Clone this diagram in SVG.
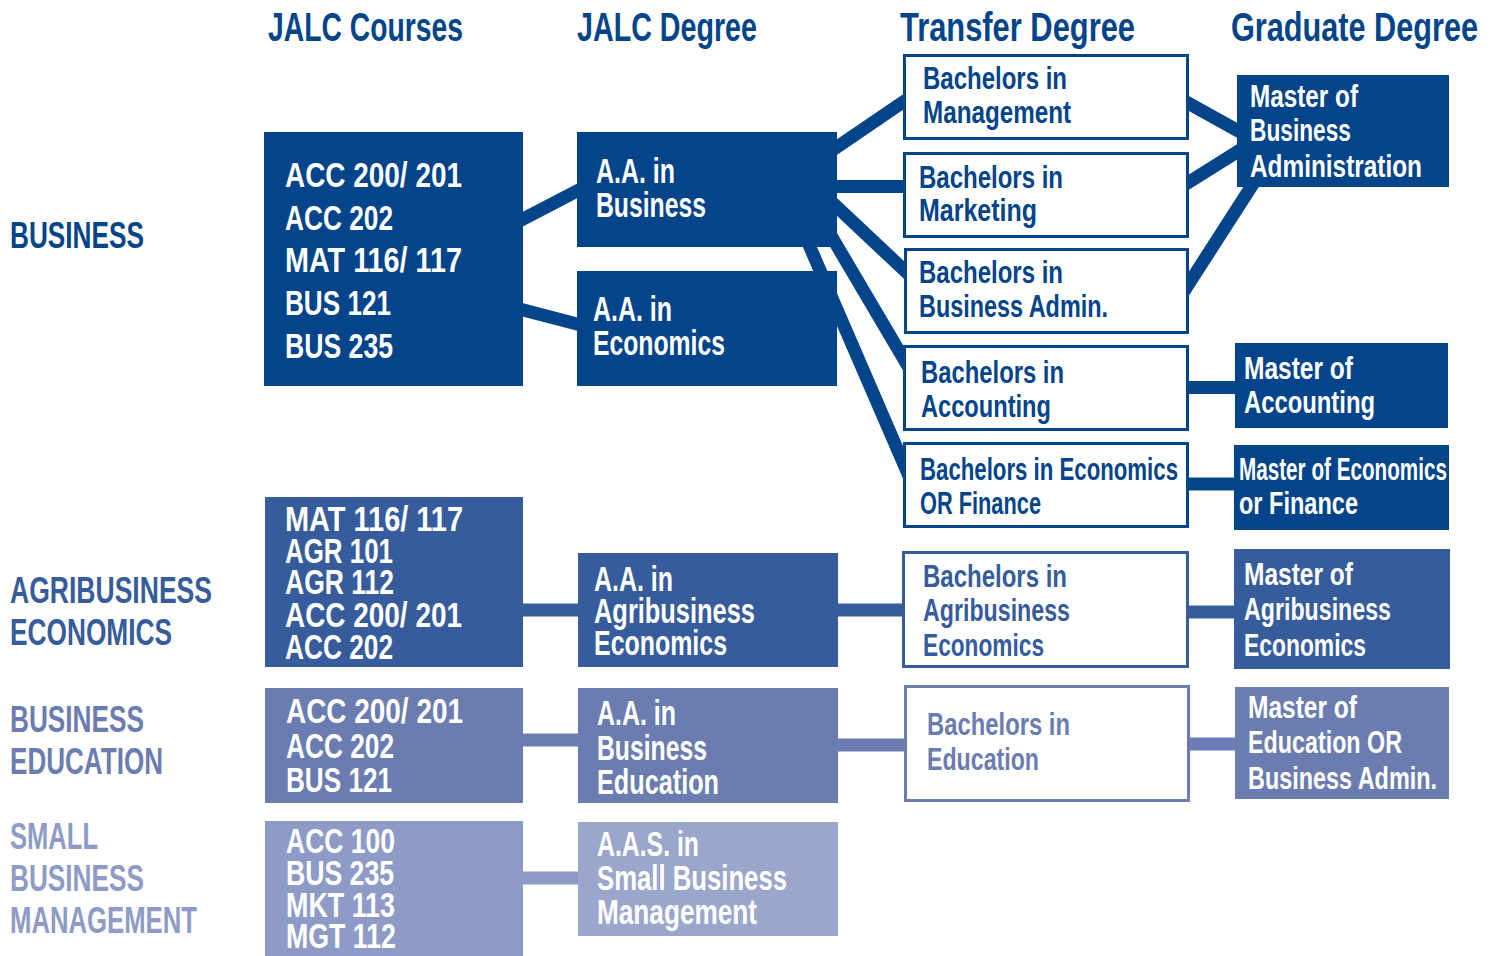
<svg xmlns="http://www.w3.org/2000/svg" width="1496" height="956" viewBox="0 0 1496 956">
<style>
text { font-family: "Liberation Sans Narrow", "Liberation Sans", Arial, sans-serif; font-weight: bold; }
.h { font-size: 40px; fill: #03448A; }
.lab { font-size: 37px; }
.c { font-size: 35px; fill: #ffffff; }
.t { font-size: 31px; }
.tw { font-size: 31px; fill: #ffffff; }
.fd { fill: #03448A; }
.fa { fill: #375C9B; }
.fe { fill: #6B7DB0; }
.fs { fill: #8E9BC6; }
.fx { fill: #9BA6CD; }
.ln { fill: none; stroke-width: 13; stroke-linecap: butt; }
.sd { stroke: #03448A; }
.sa { stroke: #375C9B; }
.se { stroke: #6B7DB0; }
.ss { stroke: #8E9BC6; }
.ob { fill: #ffffff; stroke-width: 3; }
</style>

<g id="connectors">
  <line class="ln sd" x1="500" y1="231" x2="600" y2="179"/>
  <line class="ln sd" x1="500" y1="304" x2="600" y2="330"/>
  <line class="ln sd" x1="820" y1="158.6" x2="920" y2="90.5"/>
  <line class="ln sd" x1="820" y1="186.5" x2="920" y2="186.5"/>
  <line class="ln sd" x1="820" y1="191" x2="920" y2="285"/>
  <line class="ln sd" x1="820" y1="217" x2="915" y2="378"/>
  <line class="ln sd" x1="790" y1="201" x2="915" y2="490"/>
  <line class="ln sd" x1="1170" y1="93" x2="1260" y2="143"/>
  <line class="ln sd" x1="1170" y1="194" x2="1260" y2="137.5"/>
  <line class="ln sd" x1="1170" y1="313" x2="1270" y2="157.5"/>
  <line class="ln sd" x1="1170" y1="387.5" x2="1250" y2="387.5"/>
  <line class="ln sd" x1="1170" y1="484" x2="1250" y2="484"/>
  <line class="ln sa" x1="500" y1="610" x2="600" y2="610"/>
  <line class="ln sa" x1="820" y1="610" x2="920" y2="610"/>
  <line class="ln sa" x1="1170" y1="612" x2="1250" y2="612"/>
  <line class="ln se" x1="500" y1="740" x2="600" y2="740"/>
  <line class="ln se" x1="820" y1="745" x2="920" y2="745"/>
  <line class="ln se" x1="1170" y1="744" x2="1250" y2="744"/>
  <line class="ln ss" x1="500" y1="878" x2="600" y2="878"/>
</g>

<g id="headers">
  <text class="h" x="268" y="41" textLength="195" lengthAdjust="spacingAndGlyphs">JALC Courses</text>
  <text class="h" x="577" y="41" textLength="180" lengthAdjust="spacingAndGlyphs">JALC Degree</text>
  <text class="h" x="900" y="41" textLength="235" lengthAdjust="spacingAndGlyphs">Transfer Degree</text>
  <text class="h" x="1231" y="41" textLength="247" lengthAdjust="spacingAndGlyphs">Graduate Degree</text>
</g>

<g id="label-business">
  <text class="lab fd" x="10" y="248" textLength="134" lengthAdjust="spacingAndGlyphs">BUSINESS</text>
</g>
<g id="label-agribusiness">
  <text class="lab fa" x="10" y="603" textLength="202" lengthAdjust="spacingAndGlyphs">AGRIBUSINESS</text>
  <text class="lab fa" x="10" y="645" textLength="162" lengthAdjust="spacingAndGlyphs">ECONOMICS</text>
</g>
<g id="label-education">
  <text class="lab fe" x="10" y="732" textLength="134" lengthAdjust="spacingAndGlyphs">BUSINESS</text>
  <text class="lab fe" x="10" y="774" textLength="153" lengthAdjust="spacingAndGlyphs">EDUCATION</text>
</g>
<g id="label-sbm">
  <text class="lab fs" x="10" y="849" textLength="88" lengthAdjust="spacingAndGlyphs">SMALL</text>
  <text class="lab fs" x="10" y="891" textLength="134" lengthAdjust="spacingAndGlyphs">BUSINESS</text>
  <text class="lab fs" x="10" y="933" textLength="187" lengthAdjust="spacingAndGlyphs">MANAGEMENT</text>
</g>

<g id="courses-business">
  <rect class="fd" x="264" y="132" width="259" height="254"/>
  <text class="c" x="285" y="187" textLength="177" lengthAdjust="spacingAndGlyphs">ACC 200/ 201</text>
  <text class="c" x="285" y="230" textLength="108" lengthAdjust="spacingAndGlyphs">ACC 202</text>
  <text class="c" x="285" y="272" textLength="177" lengthAdjust="spacingAndGlyphs">MAT 116/ 117</text>
  <text class="c" x="285" y="315" textLength="106" lengthAdjust="spacingAndGlyphs">BUS 121</text>
  <text class="c" x="285" y="358" textLength="108" lengthAdjust="spacingAndGlyphs">BUS 235</text>
</g>
<g id="courses-agri">
  <rect class="fa" x="265" y="497" width="258" height="170"/>
  <text class="c" x="285" y="531" textLength="178" lengthAdjust="spacingAndGlyphs">MAT 116/ 117</text>
  <text class="c" x="285" y="563" textLength="108" lengthAdjust="spacingAndGlyphs">AGR 101</text>
  <text class="c" x="285" y="594" textLength="109" lengthAdjust="spacingAndGlyphs">AGR 112</text>
  <text class="c" x="285" y="627" textLength="177" lengthAdjust="spacingAndGlyphs">ACC 200/ 201</text>
  <text class="c" x="285" y="659" textLength="108" lengthAdjust="spacingAndGlyphs">ACC 202</text>
</g>
<g id="courses-edu">
  <rect class="fe" x="265" y="688" width="258" height="115"/>
  <text class="c" x="286" y="723" textLength="177" lengthAdjust="spacingAndGlyphs">ACC 200/ 201</text>
  <text class="c" x="286" y="758" textLength="108" lengthAdjust="spacingAndGlyphs">ACC 202</text>
  <text class="c" x="286" y="792" textLength="106" lengthAdjust="spacingAndGlyphs">BUS 121</text>
</g>
<g id="courses-sbm">
  <rect class="fs" x="265" y="821" width="258" height="135"/>
  <text class="c" x="286" y="853" textLength="109" lengthAdjust="spacingAndGlyphs">ACC 100</text>
  <text class="c" x="286" y="885" textLength="108" lengthAdjust="spacingAndGlyphs">BUS 235</text>
  <text class="c" x="286" y="917" textLength="109" lengthAdjust="spacingAndGlyphs">MKT 113</text>
  <text class="c" x="286" y="948" textLength="110" lengthAdjust="spacingAndGlyphs">MGT 112</text>
</g>

<g id="aa-business">
  <rect class="fd" x="577" y="132" width="260" height="115"/>
  <text class="c" x="596" y="183" textLength="79" lengthAdjust="spacingAndGlyphs">A.A. in</text>
  <text class="c" x="596" y="217" textLength="110" lengthAdjust="spacingAndGlyphs">Business</text>
</g>
<g id="aa-economics">
  <rect class="fd" x="577" y="271" width="260" height="115"/>
  <text class="c" x="593" y="321" textLength="79" lengthAdjust="spacingAndGlyphs">A.A. in</text>
  <text class="c" x="593" y="355" textLength="132" lengthAdjust="spacingAndGlyphs">Economics</text>
</g>
<g id="aa-agri">
  <rect class="fa" x="578" y="553" width="260" height="114"/>
  <text class="c" x="594" y="591" textLength="79" lengthAdjust="spacingAndGlyphs">A.A. in</text>
  <text class="c" x="594" y="623" textLength="161" lengthAdjust="spacingAndGlyphs">Agribusiness</text>
  <text class="c" x="594" y="655" textLength="133" lengthAdjust="spacingAndGlyphs">Economics</text>
</g>
<g id="aa-edu">
  <rect class="fe" x="578" y="688" width="260" height="115"/>
  <text class="c" x="597" y="725" textLength="79" lengthAdjust="spacingAndGlyphs">A.A. in</text>
  <text class="c" x="597" y="760" textLength="110" lengthAdjust="spacingAndGlyphs">Business</text>
  <text class="c" x="597" y="794" textLength="122" lengthAdjust="spacingAndGlyphs">Education</text>
</g>
<g id="aas-sbm">
  <rect class="fx" x="578" y="822" width="260" height="114"/>
  <text class="c" x="597" y="856" textLength="102" lengthAdjust="spacingAndGlyphs">A.A.S. in</text>
  <text class="c" x="597" y="890" textLength="190" lengthAdjust="spacingAndGlyphs">Small Business</text>
  <text class="c" x="597" y="924" textLength="160" lengthAdjust="spacingAndGlyphs">Management</text>
</g>

<g id="b-management">
  <rect class="ob sd" x="904.5" y="55.5" width="283" height="83"/>
  <text class="t fd" x="923" y="89" textLength="144" lengthAdjust="spacingAndGlyphs">Bachelors in</text>
  <text class="t fd" x="923" y="123" textLength="148" lengthAdjust="spacingAndGlyphs">Management</text>
</g>
<g id="b-marketing">
  <rect class="ob sd" x="904.5" y="153.5" width="283" height="83"/>
  <text class="t fd" x="919" y="188" textLength="144" lengthAdjust="spacingAndGlyphs">Bachelors in</text>
  <text class="t fd" x="919" y="221" textLength="118" lengthAdjust="spacingAndGlyphs">Marketing</text>
</g>
<g id="b-busadmin">
  <rect class="ob sd" x="905.5" y="249.5" width="282" height="83"/>
  <text class="t fd" x="919" y="283" textLength="144" lengthAdjust="spacingAndGlyphs">Bachelors in</text>
  <text class="t fd" x="919" y="317" textLength="189" lengthAdjust="spacingAndGlyphs">Business Admin.</text>
</g>
<g id="b-accounting">
  <rect class="ob sd" x="904.5" y="346.5" width="283" height="83"/>
  <text class="t fd" x="921" y="383" textLength="143" lengthAdjust="spacingAndGlyphs">Bachelors in</text>
  <text class="t fd" x="921" y="417" textLength="130" lengthAdjust="spacingAndGlyphs">Accounting</text>
</g>
<g id="b-econfin">
  <rect class="ob sd" x="904.5" y="443.5" width="283" height="83"/>
  <text class="t fd" x="920" y="480" textLength="258" lengthAdjust="spacingAndGlyphs">Bachelors in Economics</text>
  <text class="t fd" x="920" y="514" textLength="121" lengthAdjust="spacingAndGlyphs">OR Finance</text>
</g>
<g id="b-agri">
  <rect class="ob sa" x="903.5" y="552.5" width="284" height="114"/>
  <text class="t fa" x="923" y="587" textLength="144" lengthAdjust="spacingAndGlyphs">Bachelors in</text>
  <text class="t fa" x="923" y="621" textLength="147" lengthAdjust="spacingAndGlyphs">Agribusiness</text>
  <text class="t fa" x="923" y="656" textLength="121" lengthAdjust="spacingAndGlyphs">Economics</text>
</g>
<g id="b-edu">
  <rect class="ob se" x="905.5" y="686.5" width="283" height="114"/>
  <text class="t fe" x="927" y="735" textLength="143" lengthAdjust="spacingAndGlyphs">Bachelors in</text>
  <text class="t fe" x="927" y="770" textLength="112" lengthAdjust="spacingAndGlyphs">Education</text>
</g>

<g id="m-mba">
  <rect class="fd" x="1237" y="75" width="212" height="112"/>
  <text class="tw" x="1250" y="107" textLength="108" lengthAdjust="spacingAndGlyphs">Master of</text>
  <text class="tw" x="1250" y="141" textLength="101" lengthAdjust="spacingAndGlyphs">Business</text>
  <text class="tw" x="1250" y="177" textLength="172" lengthAdjust="spacingAndGlyphs">Administration</text>
</g>
<g id="m-accounting">
  <rect class="fd" x="1235" y="343" width="213" height="85"/>
  <text class="tw" x="1244" y="379" textLength="109" lengthAdjust="spacingAndGlyphs">Master of</text>
  <text class="tw" x="1244" y="413" textLength="131" lengthAdjust="spacingAndGlyphs">Accounting</text>
</g>
<g id="m-econfin">
  <rect class="fd" x="1234" y="445" width="215" height="85"/>
  <text class="tw" x="1239" y="480" textLength="208" lengthAdjust="spacingAndGlyphs">Master of Economics</text>
  <text class="tw" x="1239" y="514" textLength="119" lengthAdjust="spacingAndGlyphs">or Finance</text>
</g>
<g id="m-agri">
  <rect class="fa" x="1234" y="549" width="216" height="120"/>
  <text class="tw" x="1244" y="585" textLength="109" lengthAdjust="spacingAndGlyphs">Master of</text>
  <text class="tw" x="1244" y="620" textLength="147" lengthAdjust="spacingAndGlyphs">Agribusiness</text>
  <text class="tw" x="1244" y="656" textLength="122" lengthAdjust="spacingAndGlyphs">Economics</text>
</g>
<g id="m-edu">
  <rect class="fe" x="1235" y="687" width="214" height="112"/>
  <text class="tw" x="1248" y="718" textLength="109" lengthAdjust="spacingAndGlyphs">Master of</text>
  <text class="tw" x="1248" y="753" textLength="154" lengthAdjust="spacingAndGlyphs">Education OR</text>
  <text class="tw" x="1248" y="789" textLength="189" lengthAdjust="spacingAndGlyphs">Business Admin.</text>
</g>
</svg>
